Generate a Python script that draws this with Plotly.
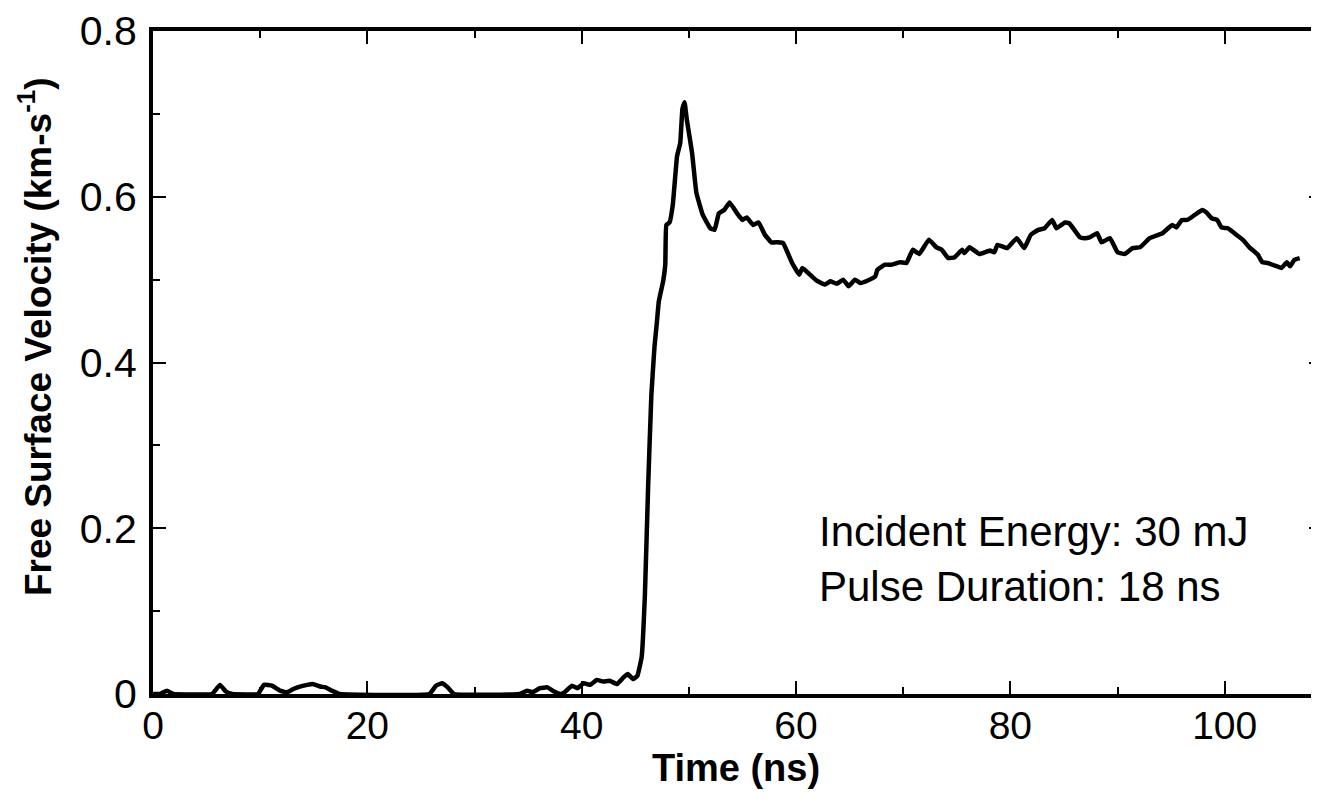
import plotly.graph_objects as go

time_ns = [0, 0.65, 1.3, 1.9, 5.5, 6.25, 6.8, 7.4, 9.8, 10.35, 11.1, 11.85, 12.5, 13.1, 13.7, 14.4, 14.9,
           15.6, 16.1, 16.7, 17.4, 25.8, 26.4, 27.0, 27.5, 28.1,
           34.2, 34.9, 35.4, 36.1, 36.8, 37.3, 38.0, 38.4, 39.1, 39.6, 40.2, 40.8, 41.4, 42.0, 42.6,
           43.3, 43.9, 44.3, 44.8, 45.2, 45.6, 45.9, 46.2, 46.5, 46.8, 47.0,
           47.2, 47.6, 47.8, 47.9, 48.2, 48.5, 48.9, 49.2, 49.4, 49.6, 49.8, 50.3, 50.7, 51.3, 52.0,
           52.4, 52.8, 53.3, 53.8, 54.5, 55.0, 55.4, 56.0, 56.5, 57.1, 57.7, 58.3, 58.8, 59.6, 60.3,
           60.6, 61.3, 61.9, 62.7, 63.2, 63.8, 64.4, 64.9, 65.5, 66.0, 66.7, 67.4, 67.6, 68.3, 68.9,
           69.7, 70.3, 70.9, 71.5, 72.4, 73.1, 73.6, 74.2, 74.8, 75.5, 75.7, 76.2, 77.1, 78.1, 78.5,
           78.8, 79.7, 80.6, 81.3, 81.9, 82.6, 83.2, 83.9, 84.3, 85.1, 85.5, 86.5, 86.9, 87.4, 88.1,
           88.5, 89.3, 90.0, 90.7, 91.4, 92.1, 93.0, 93.8, 94.2, 95.1, 95.5, 96.0, 96.5, 97.2, 97.9,
           98.3, 98.8, 99.3, 99.7, 100.3, 100.9, 101.7, 102.3, 103.1, 103.5, 104.0, 104.9, 105.3,
           105.8, 106.1, 106.5, 107.0]

velocity = [0, 0, 0.004, 0, 0, 0.011, 0.003, 0, 0, 0.011, 0.010, 0.004, 0.002, 0.006, 0.009, 0.011, 0.012,
            0.009, 0.008, 0.004, 0, 0, 0.010, 0.013, 0.008, 0,
            0, 0.004, 0.002, 0.007, 0.008, 0.004, 0, 0.002, 0.010, 0.007, 0.013, 0.011, 0.017, 0.015, 0.016,
            0.012, 0.020, 0.024, 0.018, 0.022, 0.045, 0.12, 0.25, 0.36, 0.42, 0.446,
            0.474, 0.498, 0.518, 0.566, 0.569, 0.590, 0.649, 0.665, 0.706, 0.714, 0.694, 0.653, 0.605, 0.578, 0.562,
            0.560, 0.580, 0.584, 0.593, 0.580, 0.572, 0.575, 0.566, 0.569, 0.554, 0.545, 0.545, 0.544, 0.521, 0.506,
            0.514, 0.506, 0.499, 0.494, 0.498, 0.495, 0.500, 0.492, 0.500, 0.496, 0.499, 0.504, 0.512, 0.518, 0.518,
            0.521, 0.520, 0.536, 0.531, 0.548, 0.539, 0.536, 0.526, 0.527, 0.536, 0.532, 0.539, 0.531, 0.535, 0.533,
            0.542, 0.538, 0.550, 0.538, 0.554, 0.560, 0.562, 0.572, 0.562, 0.569, 0.568, 0.551, 0.550, 0.551, 0.556,
            0.545, 0.550, 0.533, 0.531, 0.538, 0.539, 0.550, 0.554, 0.556, 0.566, 0.563, 0.572, 0.572, 0.578, 0.584,
            0.581, 0.574, 0.572, 0.563, 0.562, 0.556, 0.548, 0.539, 0.530, 0.521, 0.520, 0.516, 0.514,
            0.521, 0.516, 0.524, 0.526]

x_ticks = [0, 20, 40, 60, 80, 100]
y_ticks = [0, 0.2, 0.4, 0.6, 0.8]
y_tick_text = ["0", "0.2", "0.4", "0.6", "0.8"]
notes = ["Incident Energy: 30 mJ", "Pulse Duration: 18 ns"]

FONT = "Liberation Sans, Arial, Helvetica, sans-serif"

fig = go.Figure()
fig.add_trace(go.Scatter(x=time_ns, y=velocity, mode="lines",
                         line=dict(color="black", width=4.5, shape="spline", smoothing=0.3),
                         showlegend=False, hoverinfo="skip"))
fig.add_trace(go.Scatter(x=[None], y=[None], yaxis="y2", showlegend=False, hoverinfo="skip"))

fig.update_layout(
    width=1311, height=800,
    margin=dict(l=145, r=0, t=15, b=114),
    paper_bgcolor="white", plot_bgcolor="white",
    font=dict(family=FONT, color="black", size=38),
    xaxis=dict(range=[0, 108.8], tickvals=x_ticks, ticks="inside", ticklen=13, tickwidth=2,
               tickcolor="black", showline=True, linecolor="black", linewidth=4, mirror="ticks",
               showgrid=False, zeroline=False, ticklabelstandoff=-6, ticklabeloverflow="allow",
               minor=dict(dtick=10, tick0=0, ticks="inside", ticklen=7, tickwidth=2, tickcolor="black"),
               tickfont=dict(size=39), title=dict(text="<b>Time (ns)</b>", font=dict(size=38), standoff=8)),
    yaxis=dict(range=[0, 0.8], tickvals=y_ticks, ticktext=y_tick_text, ticks="inside", ticklen=13, tickwidth=2,
               tickcolor="black", showline=True, linecolor="black", linewidth=4, mirror=False,
               showgrid=False, zeroline=False, ticklabelstandoff=4, ticklabeloverflow="allow",
               minor=dict(dtick=0.1, tick0=0, ticks="inside", ticklen=7, tickwidth=2, tickcolor="black"),
               tickfont=dict(size=41),
               title=dict(text="&nbsp;&nbsp;&nbsp;&nbsp;&nbsp;<b>Free Surface Velocity (km-s<sup>-1</sup>)</b>",
                          font=dict(size=37), standoff=18)),
    yaxis2=dict(range=[0, 0.8], overlaying="y", side="right", anchor="x", tickvals=y_ticks,
                ticks="inside", ticklen=10, tickwidth=2, tickcolor="black", showticklabels=False,
                showline=False, showgrid=False, zeroline=False),
)

for i, txt in enumerate(notes):
    fig.add_annotation(x=62.0, y=0.196 - i * 0.066, xref="x", yref="y", text=txt, showarrow=False,
                       xanchor="left", yanchor="middle", font=dict(size=42, family=FONT, color="black"))

fig.write_html("out.html")
